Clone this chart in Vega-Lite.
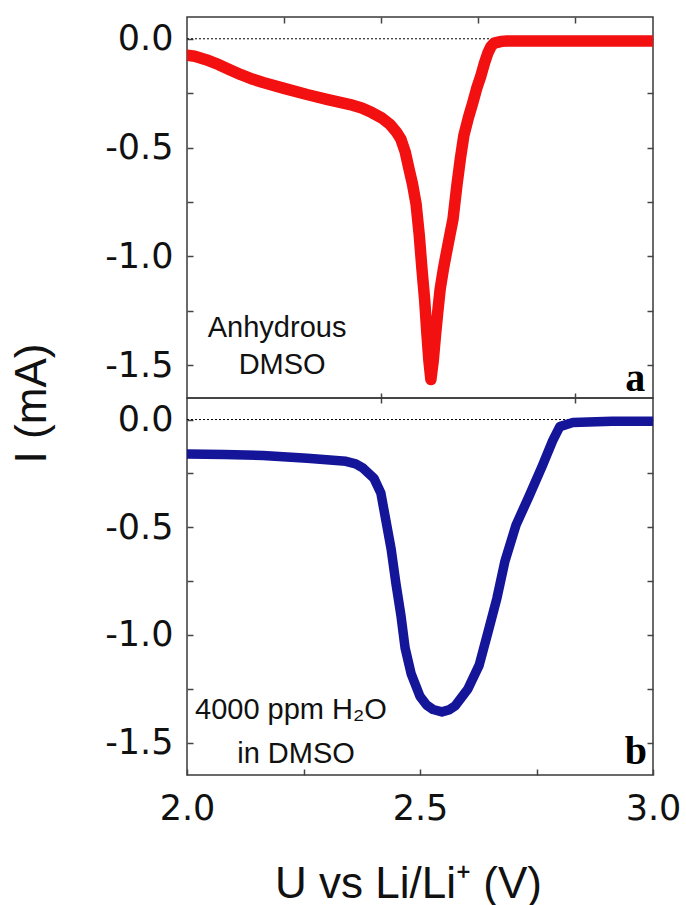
{
  "$schema": "https://vega.github.io/schema/vega-lite/v6.json",
  "padding": {"left": 9, "top": 15, "right": 5, "bottom": 5},
  "background": "white",
  "spacing": 0,
  "bounds": "flush",
  "config": {
    "view": {"stroke": "#3a3a3a", "strokeWidth": 1.5},
    "axis": {
      "grid": false, "domain": false, "labelFlush": false,
      "tickColor": "#444", "tickWidth": 1.5,
      "labelFont": "DejaVu Sans", "labelFontSize": 35, "labelColor": "#111",
      "titleFont": "Liberation Sans", "titleFontSize": 44, "titleFontWeight": "normal", "titleColor": "#111"
    }
  },
  "datasets": {
    "anhydrous": [
      {"U": 2.000, "I": -0.075}, {"U": 2.020, "I": -0.080}, {"U": 2.049, "I": -0.096},
      {"U": 2.082, "I": -0.119}, {"U": 2.110, "I": -0.142}, {"U": 2.139, "I": -0.165},
      {"U": 2.170, "I": -0.186}, {"U": 2.196, "I": -0.201}, {"U": 2.250, "I": -0.228},
      {"U": 2.309, "I": -0.256}, {"U": 2.360, "I": -0.278}, {"U": 2.420, "I": -0.302},
      {"U": 2.450, "I": -0.318}, {"U": 2.476, "I": -0.339}, {"U": 2.500, "I": -0.362},
      {"U": 2.523, "I": -0.394}, {"U": 2.540, "I": -0.430}, {"U": 2.551, "I": -0.462},
      {"U": 2.562, "I": -0.520}, {"U": 2.572, "I": -0.600}, {"U": 2.581, "I": -0.670},
      {"U": 2.590, "I": -0.760}, {"U": 2.598, "I": -0.900},
      {"U": 2.605, "I": -1.057}, {"U": 2.612, "I": -1.200}, {"U": 2.618, "I": -1.359},
      {"U": 2.623, "I": -1.480}, {"U": 2.628, "I": -1.565}, {"U": 2.634, "I": -1.480},
      {"U": 2.640, "I": -1.359}, {"U": 2.646, "I": -1.250}, {"U": 2.652, "I": -1.149},
      {"U": 2.660, "I": -1.060}, {"U": 2.667, "I": -0.993}, {"U": 2.676, "I": -0.910},
      {"U": 2.685, "I": -0.828},
      {"U": 2.695, "I": -0.673}, {"U": 2.704, "I": -0.550}, {"U": 2.713, "I": -0.444},
      {"U": 2.725, "I": -0.360}, {"U": 2.736, "I": -0.293}, {"U": 2.746, "I": -0.228},
      {"U": 2.757, "I": -0.169}, {"U": 2.766, "I": -0.112},
      {"U": 2.775, "I": -0.064}, {"U": 2.783, "I": -0.035}, {"U": 2.791, "I": -0.020}, {"U": 2.810, "I": -0.012},
      {"U": 2.824, "I": -0.010}, {"U": 2.900, "I": -0.010}, {"U": 3.000, "I": -0.010},
      {"U": 3.100, "I": -0.010}, {"U": 3.200, "I": -0.010}
    ],
    "wet": [
      {"U": 2.000, "I": -0.160}, {"U": 2.080, "I": -0.162}, {"U": 2.163, "I": -0.167},
      {"U": 2.258, "I": -0.180}, {"U": 2.341, "I": -0.194}, {"U": 2.362, "I": -0.206},
      {"U": 2.378, "I": -0.226},
      {"U": 2.401, "I": -0.272}, {"U": 2.416, "I": -0.341}, {"U": 2.425, "I": -0.447},
      {"U": 2.438, "I": -0.600}, {"U": 2.448, "I": -0.756}, {"U": 2.459, "I": -0.908},
      {"U": 2.468, "I": -1.060}, {"U": 2.481, "I": -1.180}, {"U": 2.500, "I": -1.285},
      {"U": 2.514, "I": -1.325},
      {"U": 2.528, "I": -1.346}, {"U": 2.547, "I": -1.357}, {"U": 2.562, "I": -1.348},
      {"U": 2.575, "I": -1.330},
      {"U": 2.603, "I": -1.250}, {"U": 2.627, "I": -1.140}, {"U": 2.646, "I": -0.986},
      {"U": 2.665, "I": -0.830}, {"U": 2.682, "I": -0.660}, {"U": 2.706, "I": -0.490},
      {"U": 2.734, "I": -0.356}, {"U": 2.762, "I": -0.217}, {"U": 2.785, "I": -0.097},
      {"U": 2.800, "I": -0.033}, {"U": 2.828, "I": -0.014}, {"U": 2.912, "I": -0.008},
      {"U": 3.000, "I": -0.008}
    ],
    "notes": [
      {"panel": "a", "U": 2.232, "I": -1.368, "text": "Anhydrous"},
      {"panel": "a", "U": 2.245, "I": -1.542, "text": "DMSO"},
      {"panel": "b", "U": 2.223, "I": -1.392, "text": "4000 ppm H₂O"},
      {"panel": "b", "U": 2.234, "I": -1.594, "text": "in DMSO"}
    ],
    "letters": [
      {"panel": "a", "U": 3.154, "I": -1.62, "text": "a"},
      {"panel": "b", "U": 2.963, "I": -1.60, "text": "b"}
    ]
  },
  "vconcat": [
    {
      "width": 466, "height": 381,
      "resolve": {"axis": {"x": "independent", "y": "independent"}},
      "layer": [
        {
          "data": {"values": [{"z": 0}]},
          "mark": {"type": "rule", "strokeDash": [2, 2], "color": "black", "strokeWidth": 1},
          "encoding": {
            "y": {"field": "z", "type": "quantitative",
              "scale": {"domain": [-1.65, 0.1], "nice": false, "zero": false},
              "axis": {"orient": "right", "values": [0, -0.25, -0.5, -0.75, -1.0, -1.25, -1.5], "labels": false, "tickSize": -6, "title": null}}
          }
        },
        {
          "data": {"name": "anhydrous"},
          "mark": {"type": "line", "color": "#f21010", "strokeWidth": 11.5, "strokeCap": "round", "strokeJoin": "round", "clip": true},
          "encoding": {
            "x": {"field": "U", "type": "quantitative",
              "scale": {"domain": [2.0, 3.2], "nice": false, "zero": false},
              "axis": {"orient": "bottom", "values": [2.5, 3.0], "labels": false, "tickSize": 10, "offset": -5, "title": null}},
            "y": {"field": "I", "type": "quantitative",
              "scale": {"domain": [-1.65, 0.1], "nice": false, "zero": false},
              "axis": {"orient": "left", "values": [0, -0.25, -0.5, -0.75, -1.0, -1.25, -1.5], "tickSize": -6, "labelPadding": 20,
                "labelExpr": "abs(datum.value*2 - round(datum.value*2)) < 0.001 ? (datum.value < 0 ? '-' : '') + format(abs(datum.value), '.1f') : ''",
                "title": "I (mA)", "titleX": -155, "titleY": 386, "titleBaseline": "middle", "titleAlign": "center"}}
          }
        },
        {
          "data": {"name": "notes"},
          "transform": [{"filter": "datum.panel == 'a'"}],
          "mark": {"type": "text", "font": "Liberation Sans", "fontSize": 29, "baseline": "alphabetic", "align": "center", "color": "#111"},
          "encoding": {
            "x": {"field": "U", "type": "quantitative",
              "scale": {"domain": [2.0, 3.2], "nice": false, "zero": false},
              "axis": {"orient": "top", "values": [2.25, 2.5, 2.75, 3.0], "labels": false, "tickSize": -6, "title": null}},
            "y": {"field": "I", "type": "quantitative",
              "scale": {"domain": [-1.65, 0.1], "nice": false, "zero": false}, "axis": null},
            "text": {"field": "text"}
          }
        },
        {
          "data": {"name": "letters"},
          "transform": [{"filter": "datum.panel == 'a'"}],
          "mark": {"type": "text", "font": "Liberation Serif", "fontWeight": "bold", "fontSize": 40, "baseline": "alphabetic", "align": "center", "color": "black"},
          "encoding": {
            "x": {"field": "U", "type": "quantitative", "scale": {"domain": [2.0, 3.2], "nice": false, "zero": false}, "axis": null},
            "y": {"field": "I", "type": "quantitative", "scale": {"domain": [-1.65, 0.1], "nice": false, "zero": false}, "axis": null},
            "text": {"field": "text"}
          }
        }
      ]
    },
    {
      "width": 466, "height": 377,
      "resolve": {"axis": {"x": "independent", "y": "independent"}},
      "layer": [
        {
          "data": {"values": [{"z": 0}]},
          "mark": {"type": "rule", "strokeDash": [2, 2], "color": "black", "strokeWidth": 1},
          "encoding": {
            "y": {"field": "z", "type": "quantitative",
              "scale": {"domain": [-1.65, 0.1], "nice": false, "zero": false},
              "axis": {"orient": "right", "values": [0, -0.25, -0.5, -0.75, -1.0, -1.25, -1.5], "labels": false, "tickSize": -6, "title": null}}
          }
        },
        {
          "data": {"name": "wet"},
          "mark": {"type": "line", "color": "#15159a", "strokeWidth": 9.5, "strokeCap": "round", "strokeJoin": "round", "clip": true},
          "encoding": {
            "x": {"field": "U", "type": "quantitative",
              "scale": {"domain": [2.0, 3.0], "nice": false, "zero": false},
              "axis": {"orient": "bottom", "values": [2.0, 2.25, 2.5, 2.75, 3.0], "tickSize": -6, "labelPadding": 22,
                "labelExpr": "abs(datum.value*2 - round(datum.value*2)) < 0.001 ? format(datum.value, '.1f') : ''",
                "title": "U vs Li/Li⁺ (V)", "titleX": 221, "titleY": 122, "titleBaseline": "alphabetic", "titleAlign": "center"}},
            "y": {"field": "I", "type": "quantitative",
              "scale": {"domain": [-1.65, 0.1], "nice": false, "zero": false},
              "axis": {"orient": "left", "values": [0, -0.25, -0.5, -0.75, -1.0, -1.25, -1.5], "tickSize": -6, "labelPadding": 20,
                "labelExpr": "abs(datum.value*2 - round(datum.value*2)) < 0.001 ? (datum.value < 0 ? '-' : '') + format(abs(datum.value), '.1f') : ''",
                "title": null}}
          }
        },
        {
          "data": {"name": "notes"},
          "transform": [{"filter": "datum.panel == 'b'"}],
          "mark": {"type": "text", "font": "Liberation Sans", "fontSize": 29, "baseline": "alphabetic", "align": "center", "color": "#111"},
          "encoding": {
            "x": {"field": "U", "type": "quantitative", "scale": {"domain": [2.0, 3.0], "nice": false, "zero": false}, "axis": null},
            "y": {"field": "I", "type": "quantitative", "scale": {"domain": [-1.65, 0.1], "nice": false, "zero": false}, "axis": null},
            "text": {"field": "text"}
          }
        },
        {
          "data": {"name": "letters"},
          "transform": [{"filter": "datum.panel == 'b'"}],
          "mark": {"type": "text", "font": "Liberation Serif", "fontWeight": "bold", "fontSize": 40, "baseline": "alphabetic", "align": "center", "color": "black"},
          "encoding": {
            "x": {"field": "U", "type": "quantitative", "scale": {"domain": [2.0, 3.0], "nice": false, "zero": false}, "axis": null},
            "y": {"field": "I", "type": "quantitative", "scale": {"domain": [-1.65, 0.1], "nice": false, "zero": false}, "axis": null},
            "text": {"field": "text"}
          }
        }
      ]
    }
  ]
}
